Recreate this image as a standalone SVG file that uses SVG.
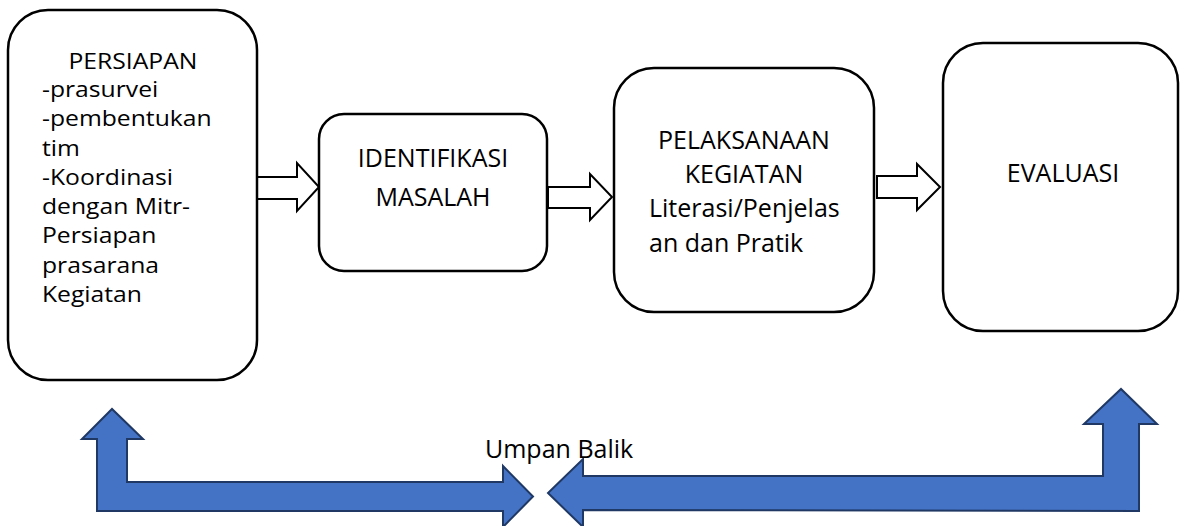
<svg xmlns="http://www.w3.org/2000/svg" width="1180" height="526" viewBox="0 0 1180 526">
<style>
.box{fill:#fff;stroke:#000;stroke-width:2.5}
.t{font-family:"Open Sans","Noto Sans",sans-serif;font-size:25px;fill:#000}
.s{font-size:21.3px}
.c{text-anchor:middle}
.hollow{fill:#fff;stroke:#000;stroke-width:2;stroke-linejoin:miter}
.blue{fill:#4472C4;stroke:#1F3864;stroke-width:2;stroke-linejoin:miter}
</style>
<rect width="1180" height="526" fill="#fff"/>
<g id="connectors">
<path class="hollow" d="M257 177 L297 177 L297 163 L319 187 L297 211 L297 199 L257 199 Z"/>
<path class="hollow" d="M548 187 L590 187 L590 174 L612 197 L590 220 L590 208 L548 208 Z"/>
<path class="hollow" d="M877 176 L917 176 L917 164 L940 187 L917 210 L917 198 L877 198 Z"/>
<path class="blue" d="M97 511 L97 439 L82 439 L112 409 L143 439 L127 439 L127 482 L503 482 L503 466 L533 496.5 L503 527 L503 511 Z"/>
<path class="blue" d="M1139 511 L1139 424 L1157 424 L1121 389 L1084 424 L1103 424 L1103 476 L583 476 L583 459 L548 493 L583 527 L583 510 Z"/>
<text class="t" x="485" y="458">Umpan Balik</text>
</g>
<g id="persiapan">
<rect class="box" x="8" y="10" width="249" height="370" rx="40"/>
<g transform="translate(42 0) scale(1.16 1) translate(-42 0)">
<text class="t s c" x="120.4" y="69">PERSIAPAN</text>
<text class="t s" x="42" y="97">-prasurvei</text>
<text class="t s" x="42" y="126.3">-pembentukan</text>
<text class="t s" x="42" y="155.6">tim</text>
<text class="t s" x="42" y="185">-Koordinasi</text>
<text class="t s" x="42" y="214.2">dengan Mitr-</text>
<text class="t s" x="42" y="243.5">Persiapan</text>
<text class="t s" x="42" y="272.8">prasarana</text>
<text class="t s" x="42" y="302">Kegiatan</text>
</g>
</g>
<g id="identifikasi">
<rect class="box" x="319" y="114" width="228" height="157" rx="25"/>
<text class="t c" x="433" y="167">IDENTIFIKASI</text>
<text class="t c" x="433" y="206">MASALAH</text>
</g>
<g id="pelaksanaan">
<rect class="box" x="614" y="68" width="260" height="244" rx="40"/>
<text class="t c" x="744" y="149">PELAKSANAAN</text>
<text class="t c" x="744" y="183">KEGIATAN</text>
<text class="t" x="649" y="217">Literasi/Penjelas</text>
<text class="t" x="649" y="252">an dan Pratik</text>
</g>
<g id="evaluasi">
<rect class="box" x="943" y="43" width="235" height="288" rx="40"/>
<text class="t c" x="1063" y="182">EVALUASI</text>
</g>
</svg>
